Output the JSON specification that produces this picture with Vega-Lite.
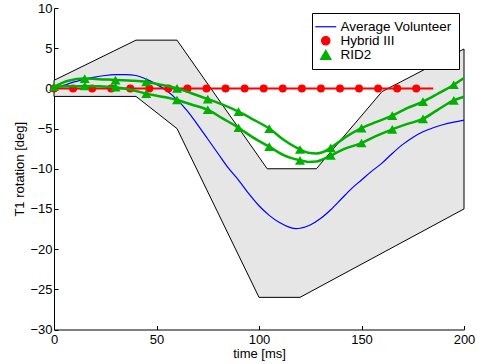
{
  "$schema": "https://vega.github.io/schema/vega-lite/v6.json",
  "width": 410,
  "height": 321.5,
  "autosize": {"type": "none"},
  "padding": {"left": 54, "top": 8, "right": 13, "bottom": 34.5},
  "background": "white",
  "view": {"stroke": null},
  "config": {
    "axis": {
      "domainColor": "black", "tickColor": "black", "labelColor": "black", "titleColor": "black",
      "labelFont": "Liberation Sans", "titleFont": "Liberation Sans",
      "labelFontSize": 13, "titleFontSize": 13, "titleFontWeight": "normal",
      "grid": false, "tickSize": -4, "domainWidth": 1, "tickWidth": 1
    },
    "legend": {"labelFont": "Liberation Sans", "labelFontSize": 13.5, "labelColor": "black"}
  },
  "datasets": {
    "band": [
      {"t": 0, "v": 1}, {"t": 40, "v": 6}, {"t": 60, "v": 6}, {"t": 104, "v": -10}, {"t": 128, "v": -10},
      {"t": 160, "v": -0.4}, {"t": 200, "v": 4.9}, {"t": 200, "v": -15}, {"t": 120, "v": -26}, {"t": 100, "v": -26},
      {"t": 60, "v": -5}, {"t": 40, "v": -1}, {"t": 0, "v": -1}, {"t": 0, "v": 1}
    ],
    "volunteer": [
      {"series": "Average Volunteer", "t": 0, "v": 0}, {"series": "Average Volunteer", "t": 5, "v": 0.4},
      {"series": "Average Volunteer", "t": 10, "v": 0.8}, {"series": "Average Volunteer", "t": 15, "v": 1.15},
      {"series": "Average Volunteer", "t": 20, "v": 1.4}, {"series": "Average Volunteer", "t": 25, "v": 1.6},
      {"series": "Average Volunteer", "t": 30, "v": 1.7}, {"series": "Average Volunteer", "t": 35, "v": 1.72},
      {"series": "Average Volunteer", "t": 40, "v": 1.6}, {"series": "Average Volunteer", "t": 45, "v": 1.15},
      {"series": "Average Volunteer", "t": 50, "v": 0.5}, {"series": "Average Volunteer", "t": 55, "v": -0.3},
      {"series": "Average Volunteer", "t": 60, "v": -1.4}, {"series": "Average Volunteer", "t": 65, "v": -2.8},
      {"series": "Average Volunteer", "t": 70, "v": -4.5}, {"series": "Average Volunteer", "t": 75, "v": -6.3},
      {"series": "Average Volunteer", "t": 80, "v": -8.1}, {"series": "Average Volunteer", "t": 85, "v": -9.9},
      {"series": "Average Volunteer", "t": 90, "v": -11.4}, {"series": "Average Volunteer", "t": 95, "v": -13.1},
      {"series": "Average Volunteer", "t": 100, "v": -14.6}, {"series": "Average Volunteer", "t": 105, "v": -15.8},
      {"series": "Average Volunteer", "t": 110, "v": -16.7}, {"series": "Average Volunteer", "t": 115, "v": -17.3},
      {"series": "Average Volunteer", "t": 118, "v": -17.45}, {"series": "Average Volunteer", "t": 120, "v": -17.4},
      {"series": "Average Volunteer", "t": 125, "v": -17.0}, {"series": "Average Volunteer", "t": 130, "v": -16.2},
      {"series": "Average Volunteer", "t": 135, "v": -15.1}, {"series": "Average Volunteer", "t": 140, "v": -13.8},
      {"series": "Average Volunteer", "t": 145, "v": -12.5}, {"series": "Average Volunteer", "t": 150, "v": -11.4},
      {"series": "Average Volunteer", "t": 155, "v": -10.3}, {"series": "Average Volunteer", "t": 160, "v": -9.3},
      {"series": "Average Volunteer", "t": 165, "v": -8.1}, {"series": "Average Volunteer", "t": 170, "v": -7.0},
      {"series": "Average Volunteer", "t": 175, "v": -6.1}, {"series": "Average Volunteer", "t": 180, "v": -5.4},
      {"series": "Average Volunteer", "t": 185, "v": -4.9}, {"series": "Average Volunteer", "t": 190, "v": -4.5},
      {"series": "Average Volunteer", "t": 195, "v": -4.2}, {"series": "Average Volunteer", "t": 200, "v": -3.95}
    ],
    "hybrid": [
      {"series": "Hybrid III", "t": 0, "v": 0}, {"series": "Hybrid III", "t": 185, "v": 0}
    ],
    "hybridMarkers": [
      {"series": "Hybrid III", "t": 0, "v": 0}, {"series": "Hybrid III", "t": 9.3, "v": 0},
      {"series": "Hybrid III", "t": 18.6, "v": 0}, {"series": "Hybrid III", "t": 27.9, "v": 0},
      {"series": "Hybrid III", "t": 37.2, "v": 0}, {"series": "Hybrid III", "t": 46.5, "v": 0},
      {"series": "Hybrid III", "t": 55.8, "v": 0}, {"series": "Hybrid III", "t": 65.1, "v": 0},
      {"series": "Hybrid III", "t": 74.4, "v": 0}, {"series": "Hybrid III", "t": 83.7, "v": 0},
      {"series": "Hybrid III", "t": 93.0, "v": 0}, {"series": "Hybrid III", "t": 102.3, "v": 0},
      {"series": "Hybrid III", "t": 111.6, "v": 0}, {"series": "Hybrid III", "t": 120.9, "v": 0},
      {"series": "Hybrid III", "t": 130.2, "v": 0}, {"series": "Hybrid III", "t": 139.5, "v": 0},
      {"series": "Hybrid III", "t": 148.8, "v": 0}, {"series": "Hybrid III", "t": 158.1, "v": 0},
      {"series": "Hybrid III", "t": 167.4, "v": 0}, {"series": "Hybrid III", "t": 176.7, "v": 0}
    ],
    "rid2": [
      {"series": "RID2", "curve": "upper", "t": 0, "v": 0.2}, {"series": "RID2", "curve": "upper", "t": 7, "v": 0.95},
      {"series": "RID2", "curve": "upper", "t": 15, "v": 1.22}, {"series": "RID2", "curve": "upper", "t": 22, "v": 1.15},
      {"series": "RID2", "curve": "upper", "t": 30, "v": 1.03}, {"series": "RID2", "curve": "upper", "t": 38, "v": 0.95},
      {"series": "RID2", "curve": "upper", "t": 45, "v": 0.8}, {"series": "RID2", "curve": "upper", "t": 52, "v": 0.45},
      {"series": "RID2", "curve": "upper", "t": 60, "v": 0.0}, {"series": "RID2", "curve": "upper", "t": 67, "v": -0.6},
      {"series": "RID2", "curve": "upper", "t": 75, "v": -1.33}, {"series": "RID2", "curve": "upper", "t": 82, "v": -2.0},
      {"series": "RID2", "curve": "upper", "t": 90, "v": -2.9}, {"series": "RID2", "curve": "upper", "t": 97, "v": -3.85},
      {"series": "RID2", "curve": "upper", "t": 105, "v": -5.0}, {"series": "RID2", "curve": "upper", "t": 112, "v": -6.4},
      {"series": "RID2", "curve": "upper", "t": 120, "v": -7.6}, {"series": "RID2", "curve": "upper", "t": 124, "v": -8.0},
      {"series": "RID2", "curve": "upper", "t": 128, "v": -8.1}, {"series": "RID2", "curve": "upper", "t": 131, "v": -7.95},
      {"series": "RID2", "curve": "upper", "t": 135, "v": -7.4}, {"series": "RID2", "curve": "upper", "t": 142, "v": -6.1},
      {"series": "RID2", "curve": "upper", "t": 150, "v": -4.95}, {"series": "RID2", "curve": "upper", "t": 157, "v": -4.2},
      {"series": "RID2", "curve": "upper", "t": 165, "v": -3.4}, {"series": "RID2", "curve": "upper", "t": 172, "v": -2.5},
      {"series": "RID2", "curve": "upper", "t": 180, "v": -1.65}, {"series": "RID2", "curve": "upper", "t": 187, "v": -0.7},
      {"series": "RID2", "curve": "upper", "t": 195, "v": 0.45}, {"series": "RID2", "curve": "upper", "t": 200, "v": 1.3},
      {"series": "RID2", "curve": "lower", "t": 0, "v": 0.2}, {"series": "RID2", "curve": "lower", "t": 7, "v": 0.25},
      {"series": "RID2", "curve": "lower", "t": 15, "v": 0.3}, {"series": "RID2", "curve": "lower", "t": 22, "v": 0.25},
      {"series": "RID2", "curve": "lower", "t": 30, "v": 0.15}, {"series": "RID2", "curve": "lower", "t": 38, "v": -0.2},
      {"series": "RID2", "curve": "lower", "t": 45, "v": -0.65}, {"series": "RID2", "curve": "lower", "t": 52, "v": -1.0},
      {"series": "RID2", "curve": "lower", "t": 60, "v": -1.45}, {"series": "RID2", "curve": "lower", "t": 67, "v": -2.0},
      {"series": "RID2", "curve": "lower", "t": 75, "v": -2.66}, {"series": "RID2", "curve": "lower", "t": 82, "v": -3.7},
      {"series": "RID2", "curve": "lower", "t": 90, "v": -4.9}, {"series": "RID2", "curve": "lower", "t": 97, "v": -6.1},
      {"series": "RID2", "curve": "lower", "t": 105, "v": -7.25}, {"series": "RID2", "curve": "lower", "t": 112, "v": -8.3},
      {"series": "RID2", "curve": "lower", "t": 120, "v": -8.95}, {"series": "RID2", "curve": "lower", "t": 124, "v": -9.15},
      {"series": "RID2", "curve": "lower", "t": 128, "v": -9.1}, {"series": "RID2", "curve": "lower", "t": 131, "v": -8.85},
      {"series": "RID2", "curve": "lower", "t": 135, "v": -8.35}, {"series": "RID2", "curve": "lower", "t": 142, "v": -7.5},
      {"series": "RID2", "curve": "lower", "t": 150, "v": -6.8}, {"series": "RID2", "curve": "lower", "t": 157, "v": -5.95},
      {"series": "RID2", "curve": "lower", "t": 165, "v": -5.1}, {"series": "RID2", "curve": "lower", "t": 172, "v": -4.45},
      {"series": "RID2", "curve": "lower", "t": 180, "v": -3.8}, {"series": "RID2", "curve": "lower", "t": 187, "v": -2.7},
      {"series": "RID2", "curve": "lower", "t": 195, "v": -1.5}, {"series": "RID2", "curve": "lower", "t": 200, "v": -1.05}
    ],
    "rid2Markers": [
      {"series": "RID2", "curve": "upper", "t": 0, "v": 0.2}, {"series": "RID2", "curve": "upper", "t": 15, "v": 1.22},
      {"series": "RID2", "curve": "upper", "t": 30, "v": 1.03}, {"series": "RID2", "curve": "upper", "t": 45, "v": 0.8},
      {"series": "RID2", "curve": "upper", "t": 60, "v": 0.0}, {"series": "RID2", "curve": "upper", "t": 75, "v": -1.33},
      {"series": "RID2", "curve": "upper", "t": 90, "v": -2.9}, {"series": "RID2", "curve": "upper", "t": 105, "v": -5.0},
      {"series": "RID2", "curve": "upper", "t": 120, "v": -7.6}, {"series": "RID2", "curve": "upper", "t": 135, "v": -7.4},
      {"series": "RID2", "curve": "upper", "t": 150, "v": -4.95}, {"series": "RID2", "curve": "upper", "t": 165, "v": -3.4},
      {"series": "RID2", "curve": "upper", "t": 180, "v": -1.65}, {"series": "RID2", "curve": "upper", "t": 195, "v": 0.45},
      {"series": "RID2", "curve": "lower", "t": 15, "v": 0.3},
      {"series": "RID2", "curve": "lower", "t": 30, "v": 0.15}, {"series": "RID2", "curve": "lower", "t": 45, "v": -0.65},
      {"series": "RID2", "curve": "lower", "t": 60, "v": -1.45}, {"series": "RID2", "curve": "lower", "t": 75, "v": -2.66},
      {"series": "RID2", "curve": "lower", "t": 90, "v": -4.9}, {"series": "RID2", "curve": "lower", "t": 105, "v": -7.25},
      {"series": "RID2", "curve": "lower", "t": 120, "v": -8.95}, {"series": "RID2", "curve": "lower", "t": 135, "v": -8.35},
      {"series": "RID2", "curve": "lower", "t": 150, "v": -6.8}, {"series": "RID2", "curve": "lower", "t": 165, "v": -5.1},
      {"series": "RID2", "curve": "lower", "t": 180, "v": -3.8}, {"series": "RID2", "curve": "lower", "t": 195, "v": -1.5}
    ]
  },
  "encoding": {
    "x": {
      "field": "t", "type": "quantitative",
      "scale": {"domain": [0, 200], "nice": false, "zero": false},
      "axis": {"title": "time [ms]", "values": [0, 50, 100, 150, 200], "labelPadding": 8, "titlePadding": 1, "labelFlush": false}
    },
    "y": {
      "field": "v", "type": "quantitative",
      "scale": {"domain": [-30, 10], "nice": false, "zero": false},
      "axis": {"title": "T1 rotation [deg]", "values": [-30, -25, -20, -15, -10, -5, 0, 5, 10], "labelPadding": 6, "titlePadding": 3, "labelFlush": false}
    }
  },
  "layer": [
    {
      "data": {"name": "band"},
      "mark": {"type": "line", "fill": "#e6e6e6", "stroke": "black", "strokeWidth": 1, "interpolate": "linear"},
      "encoding": {"order": {"value": null}}
    },
    {
      "data": {"name": "volunteer"},
      "mark": {"type": "line", "strokeWidth": 1.2, "interpolate": "monotone"},
      "encoding": {
        "color": {
          "field": "series", "type": "nominal",
          "scale": {"domain": ["Average Volunteer", "Hybrid III", "RID2"], "range": ["#0000ff", "#ff0000", "#00b000"]},
          "legend": {
            "title": null, "orient": "top-right", "offset": 5, "padding": 7,
            "strokeColor": "black", "fillColor": "white",
            "symbolSize": 440, "rowPadding": -3.5, "labelOffset": 8,
            "encode": {
              "symbols": {
                "update": {
                  "shape": {"signal": "datum.value === 'Average Volunteer' ? 'stroke' : datum.value === 'Hybrid III' ? 'circle' : 'triangle-up'"},
                  "size": {"signal": "datum.value === 'Average Volunteer' ? 440 : datum.value === 'Hybrid III' ? 70 : 110"},
                  "fill": {"signal": "datum.value === 'Average Volunteer' ? 'transparent' : datum.value === 'Hybrid III' ? '#ff0000' : '#00b000'"},
                  "stroke": {"signal": "datum.value === 'Average Volunteer' ? '#0000ff' : datum.value === 'Hybrid III' ? '#ff0000' : '#00b000'"},
                  "strokeWidth": {"value": 1.2},
                  "opacity": {"value": 1}
                }
              }
            }
          }
        }
      }
    },
    {
      "data": {"name": "hybrid"},
      "mark": {"type": "line", "strokeWidth": 2},
      "encoding": {"color": {"field": "series", "type": "nominal"}}
    },
    {
      "data": {"name": "hybridMarkers"},
      "mark": {"type": "point", "shape": "circle", "filled": true, "size": 64, "opacity": 1},
      "encoding": {"color": {"field": "series", "type": "nominal"}}
    },
    {
      "data": {"name": "rid2"},
      "mark": {"type": "line", "strokeWidth": 2.5, "interpolate": "monotone"},
      "encoding": {"color": {"field": "series", "type": "nominal"}, "detail": {"field": "curve"}}
    },
    {
      "data": {"name": "rid2Markers"},
      "mark": {"type": "point", "shape": "triangle-up", "filled": true, "size": 100, "opacity": 1},
      "encoding": {"color": {"field": "series", "type": "nominal"}}
    }
  ]
}
